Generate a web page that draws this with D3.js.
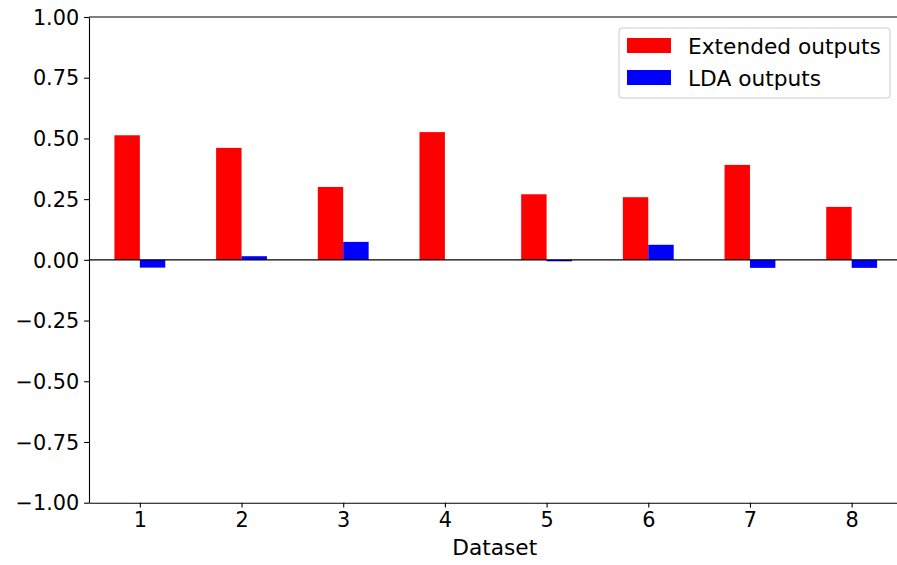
<!DOCTYPE html>
<html>
<head>
<meta charset="utf-8">
<script src="https://cdn.jsdelivr.net/npm/d3@7"></script>
<style>
  body { margin: 0; background: #fff; }
  text { font-family: "DejaVu Sans", sans-serif; }
</style>
</head>
<body>
<svg id="chart" width="897" height="565"></svg>
<script>
// values
var datasets = [1, 2, 3, 4, 5, 6, 7, 8];
var extendedOutputs = [0.513, 0.461, 0.300, 0.526, 0.270, 0.258, 0.391, 0.218];
var ldaOutputs = [-0.032, 0.015, 0.074, 0.0, -0.006, 0.062, -0.033, -0.033];
var yTicks = [-1, -0.75, -0.5, -0.25, 0, 0.25, 0.5, 0.75, 1];
var seriesNames = ['Extended outputs', 'LDA outputs'];
var seriesColors = ['#ff0000', '#0000ff'];

var fontSize = 20.8;
var labelSize = 21.7;
var margin = {top: 17, left: 89};
var plotW = 813.5, plotH = 485.7;
var barW = 0.25;

var svg = d3.select('#chart');
var g = svg.append('g')
  .attr('transform', 'translate(' + margin.left + ',' + margin.top + ')');

var x = d3.scaleLinear().domain([0.5, 8.5]).range([0, plotW]);
var y = d3.scaleLinear().domain([-1, 1]).range([plotH, 0]);

var series = [extendedOutputs, ldaOutputs];
series.forEach(function(vals, s) {
  g.append('g')
    .selectAll('rect')
    .data(vals)
    .enter()
    .append('rect')
    .attr('x', function(d, i) {
      return x(datasets[i] + (s === 0 ? -barW : 0));
    })
    .attr('y', function(d) { return y(Math.max(0, d)); })
    .attr('width', x(barW) - x(0))
    .attr('height', function(d) { return Math.abs(y(d) - y(0)); })
    .attr('fill', seriesColors[s]);
});

// zero line
g.append('line')
  .attr('x1', 0).attr('x2', plotW)
  .attr('y1', y(0)).attr('y2', y(0))
  .attr('stroke', '#000').attr('stroke-width', 1.1);

// axes
var yAxis = d3.axisLeft(y)
  .tickValues(yTicks)
  .tickFormat(d3.format('.2f'))
  .tickSizeInner(4.9).tickSizeOuter(0).tickPadding(4.9);
var xAxis = d3.axisBottom(x)
  .tickValues(datasets)
  .tickFormat(d3.format('d'))
  .tickSizeInner(4.9).tickSizeOuter(0).tickPadding(4.9);

var ya = g.append('g').call(yAxis);
var xa = g.append('g').attr('transform', 'translate(0,' + plotH + ')').call(xAxis);
[ya, xa].forEach(function(a) {
  a.selectAll('text').attr('font-size', fontSize).attr('fill', '#000')
    .style('font-family', '"DejaVu Sans", sans-serif');
  a.selectAll('line').attr('stroke', '#000').attr('stroke-width', 1.1);
  a.select('.domain').attr('stroke', '#000').attr('stroke-width', 1.1);
});
ya.selectAll('text').attr('dy', '0.35em');

// top spine
g.append('line')
  .attr('x1', 0).attr('x2', plotW)
  .attr('y1', 0).attr('y2', 0)
  .attr('stroke', '#000').attr('stroke-width', 1.1);

// x label
svg.append('text')
  .attr('x', margin.left + plotW / 2 - 1)
  .attr('y', 555)
  .attr('text-anchor', 'middle')
  .attr('font-size', labelSize)
  .text('Dataset');

// legend
var legend = svg.append('g').attr('transform', 'translate(619,28)');
legend.append('rect')
  .attr('width', 271).attr('height', 70)
  .attr('rx', 3).attr('ry', 3)
  .attr('fill', '#fff').attr('fill-opacity', 0.8)
  .attr('stroke', '#cccccc').attr('stroke-width', 1);
seriesNames.forEach(function(name, i) {
  var row = legend.append('g').attr('transform', 'translate(0,' + (10 + i * 32) + ')');
  row.append('rect')
    .attr('x', 8).attr('y', 0)
    .attr('width', 44).attr('height', 15)
    .attr('fill', seriesColors[i]);
  row.append('text')
    .attr('x', 69).attr('y', 15.5)
    .attr('font-size', labelSize)
    .attr('fill', '#000')
    .text(name);
});
</script>
</body>
</html>
